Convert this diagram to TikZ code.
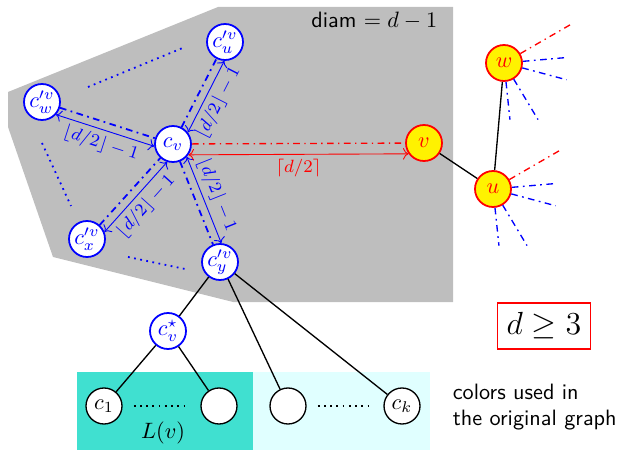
\documentclass[tikz,border=0pt]{standalone}
\usepackage{amsmath}
\usepackage{amssymb}
\usepackage{xcolor}
\usepackage{tikz}
\usetikzlibrary{
	calc,								% Calculate point coordinates
	arrows.meta							% Advanced arrows
}
\definecolor{ball-gray}{RGB}{190,190,190}
\definecolor{palette}{RGB}{64,224,208}
\definecolor{palette-light}{RGB}{224,255,255}

\begin{document}
\begin{tikzpicture}[x=0.45pt, y=0.45pt]
		\tikzstyle{bluevert} = [draw=blue, thick, circle, fill=white, text=blue, minimum size=16.2pt, inner sep=0pt]
		\tikzstyle{outvert} = [draw=red, thick, circle, fill=yellow, text=red, minimum size=16.2pt, inner sep=0pt]
		\tikzstyle{colvert} = [draw, semithick, circle, fill=white, minimum size=16.2pt, inner sep=0pt]
		\tikzstyle{bluepath} = [blue, thick, dash dot]
		\tikzstyle{redpath} = [red, semithick, dash dot]
		\tikzstyle{dist} = [<->, blue]
		\tikzstyle{distlabel} = [font=\fontsize{8.5}{10}\selectfont, inner sep=2pt]
		\tikzstyle{ellip} = [blue, thick, dotted]
		
		\useasboundingbox (0,0) rectangle (617,-450);
		
		% Ball of diameter d-1
		\fill[ball-gray] (8,-92) -- (218,-7) -- (453,-7) -- (453,-302) -- (233,-302) -- (53,-257) -- (8,-127) -- cycle;
		\node[anchor=east] at (445,-21) (diamLabel) {\textsf{diam} $= d-1$};
		
		% Palette
		\fill[palette] (77,-372) rectangle (253,-450);
		\fill[palette-light] (253,-372) rectangle (430,-450);
		
		% Vertices
		%% Centre and border of the ball
		\node[bluevert] at (173,-144) (cv) {$c_v$};
		\node[bluevert] at (225,-42) (cu) {$c^{\prime v}_{u}$};
		\node[bluevert] at (42,-102) (cw) {$c^{\prime v}_{w}$};
		\node[bluevert] at (87,-239) (cx) {$c^{\prime v}_{x}$};
		\node[bluevert] at (220,-262) (cy) {$c^{\prime v}_{y}$};
		\node[bluevert] at (168,-331) (cvs) {$c^{\star}_{v}$};
		%% Original graph
		\node[outvert] at (424,-143) (v) {$v$};
		\node[outvert] at (493,-189) (u) {$u$};
		\node[outvert] at (504,-63) (w) {$w$};
		%% Colors
		\node[colvert] at (104,-406) (c1) {$c_1$};
		\node[colvert] at (219,-406) (cTwo) {};
		\node[colvert] at (288,-406) (cThree) {};
		\node[colvert] at (402,-406) (ck) {$c_k$};
		
		% Distances inside the ball
		\foreach \from/\to/\ang/\off/\side in {cv/cu/63/-25/below, cw/cv/-17.8/-25/below, cx/cv/47.8/-25/below, cv/cy/-68.3/25/above}{
			\pgfmathsetmacro{\angFrom}{\ang+\off}
			\pgfmathsetmacro{\angTo}{\ang+180-\off}
			\draw[bluepath] (\from) -- (\to);
			\draw[dist] (\from.\angFrom) -- node[midway, sloped, \side, distlabel] {$\lfloor d/2\rfloor-1$} (\to.\angTo);
		}
		%% Dots between border vertices
		\draw[ellip] (88,-87) -- (185,-47);
		\draw[ellip] (42,-143) -- (71,-206);
		\draw[ellip] (128,-257) -- (185,-269);
		
		% Distance to v
		\draw[redpath] (cv) -- (v);
		\draw[<->, red] (cv.-35) -- node[midway, below, distlabel, font=\footnotesize] {$\lceil d/2\rceil$} (v.215);
		
		% Edges of the original graph
		\draw[semithick] (v) -- (u);
		\draw[semithick] (u) -- (w);
		\foreach \vert in {w, u}{
			\draw[redpath] (\vert.30) -- ($(\vert)+(30:80)$);
			\foreach \ang/\len in {5/63, -15/65, -59/66, -84/57}{
				\draw[bluepath, semithick] (\vert.\ang) -- ($(\vert)+(\ang:\len)$);
			}
		}
		
		% Tree of colors
		\draw[semithick] (cy) -- (cvs);
		\draw[semithick] (cy) -- (cThree);
		\draw[semithick] (cy) -- (ck);
		\draw[semithick] (cvs) -- (c1);
		\draw[semithick] (cvs) -- (cTwo);
		\draw[thick, dotted, shorten <=5pt, shorten >=5pt] (c1) -- (cTwo);
		\draw[thick, dotted, shorten <=5pt, shorten >=5pt] (cThree) -- (ck);
		
		% Labels
		\node at (163,-433) (listLabel) {$L(v)$};
		\node[anchor=west, align=left, font=\sffamily] at (445,-407) (colorsLabel) {colors used in\\the original graph};
		\node[draw=red, thick, minimum width=41.9pt, minimum height=20.7pt] at (544,-326) (bound) {\Large $d \geq 3$};
	\end{tikzpicture}
\end{document}
